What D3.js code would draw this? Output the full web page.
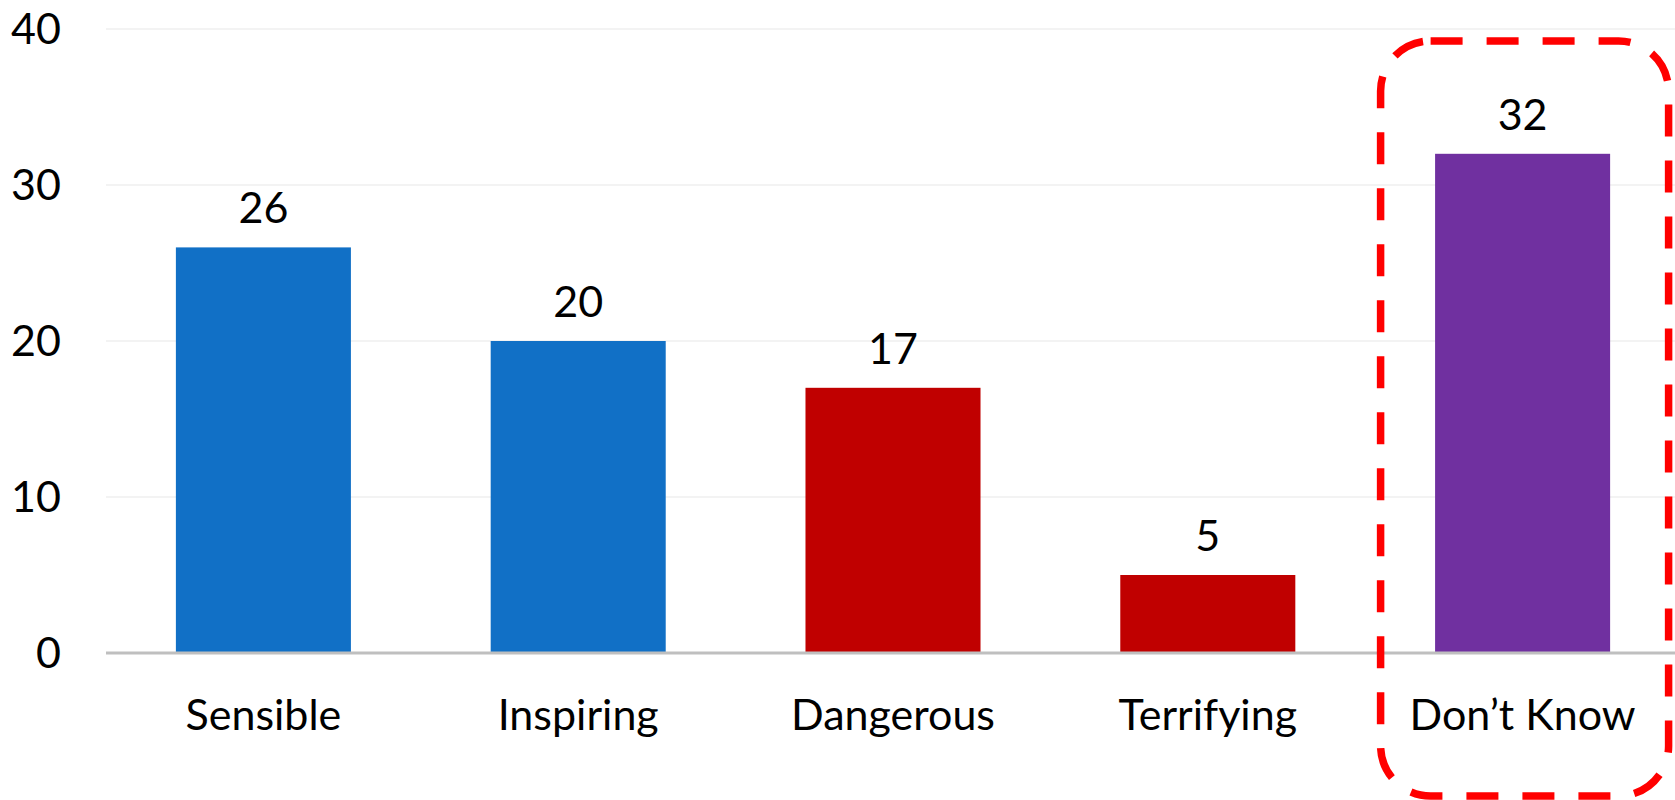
<!DOCTYPE html>
<html>
<head>
<meta charset="utf-8">
<script src="https://cdn.jsdelivr.net/npm/d3@7"></script>
<style>
  html, body { margin: 0; padding: 0; background: #fff; }
  svg { display: block; }
  text { font-family: Lato, "Open Sans", sans-serif; fill: #000; }
</style>
</head>
<body>
<svg id="chart" width="1675" height="800"></svg>
<script>
const categories = ["Sensible", "Inspiring", "Dangerous", "Terrifying", "Don\u2019t Know"];
const values = [26, 20, 17, 5, 32];
const barColors = ["#1170C6", "#1170C6", "#C00000", "#C00000", "#7030A0"];
const yTicks = [0, 10, 20, 30, 40];
const highlighted = "Don\u2019t Know";

const W = 1675, H = 800;
const FS = 43;
const svg = d3.select("#chart");

const x = d3.scaleBand().domain(categories).range([106, 1680]).paddingInner(0.444).paddingOuter(0.222);
const y = d3.scaleLinear().domain([0, 40]).range([653, 29]);

// gridlines
svg.append("g").selectAll("line").data(yTicks.filter(d => d !== 0)).join("line")
  .attr("x1", 106).attr("x2", W)
  .attr("y1", d => y(d)).attr("y2", d => y(d))
  .attr("stroke", "#EFEFEF").attr("stroke-width", 1.5);

// y axis labels
const yAxis = d3.axisLeft(y).tickValues(yTicks).tickSize(0).tickPadding(0);
const yg = svg.append("g").attr("transform", "translate(61,0)").call(yAxis);
yg.select(".domain").remove();
yg.selectAll("text").attr("font-size", FS).attr("font-family", "Lato, sans-serif").attr("fill", "#000").attr("dy", "0.34em");

// bars
svg.append("g").selectAll("rect").data(categories).join("rect")
  .attr("x", d => x(d)).attr("width", x.bandwidth())
  .attr("y", (d, i) => y(values[i])).attr("height", (d, i) => y(0) - y(values[i]))
  .attr("fill", (d, i) => barColors[i]);

// baseline
svg.append("line").attr("x1", 106).attr("x2", W).attr("y1", y(0)).attr("y2", y(0))
  .attr("stroke", "#BFBFBF").attr("stroke-width", 3);

// value labels
svg.append("g").selectAll("text").data(categories).join("text")
  .attr("x", d => x(d) + x.bandwidth() / 2)
  .attr("y", (d, i) => y(values[i]) - 24)
  .attr("text-anchor", "middle").attr("font-size", FS)
  .text((d, i) => values[i]);

// x axis labels
const xAxis = d3.axisBottom(x).tickSize(0).tickPadding(0);
const xg = svg.append("g").attr("transform", "translate(0,730)").call(xAxis);
xg.select(".domain").remove();
xg.selectAll("text").attr("font-size", FS).attr("font-family", "Lato, sans-serif").attr("fill", "#000").attr("dy", 0);

// highlight dashed rounded rect
const cx = x(highlighted) + x.bandwidth() / 2;
svg.append("rect")
  .attr("x", cx - 142).attr("y", 41)
  .attr("width", 288).attr("height", 755)
  .attr("rx", 50).attr("ry", 50)
  .attr("fill", "none").attr("stroke", "#FF0000").attr("stroke-width", 7.5)
  .attr("stroke-dasharray", "32,24");
</script>
</body>
</html>
